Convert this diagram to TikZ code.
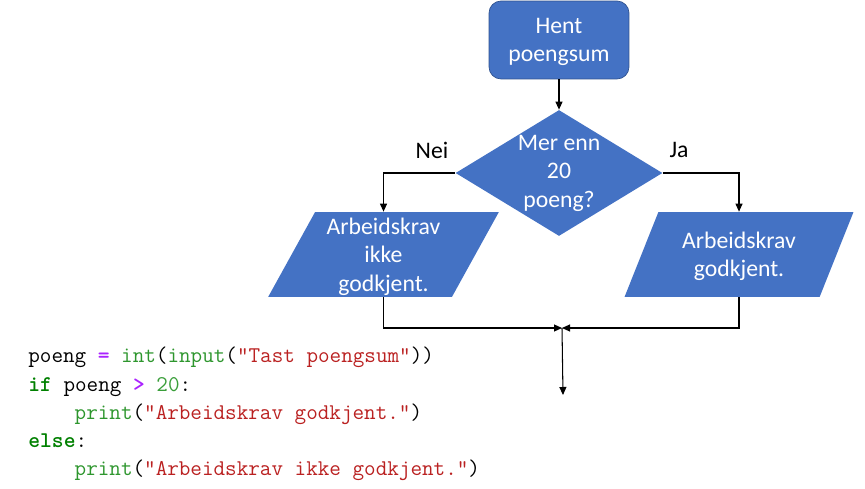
\documentclass[tikz,border=0pt]{standalone}
\usepackage{fontspec}
\setmainfont{Carlito}
\usetikzlibrary{arrows.meta, positioning, shapes.geometric}

\definecolor{boxblue}{HTML}{4472C4}
\definecolor{boxedge}{HTML}{2F528F}
\definecolor{kwgreen}{HTML}{008000}
\definecolor{fngreen}{HTML}{2E962E}
\definecolor{numgreen}{HTML}{3A9E3A}
\definecolor{strred}{HTML}{BA2121}
\definecolor{oppurple}{HTML}{AA22FF}

\newcommand\kw[1]{\textcolor{kwgreen}{\textbf{#1}}}
\newcommand\fn[1]{\textcolor{fngreen}{#1}}
\newcommand\str[1]{\textcolor{strred}{#1}}
\newcommand\op[1]{\textcolor{oppurple}{\textbf{#1}}}
\newcommand\num[1]{\textcolor{numgreen}{#1}}
\newcommand\tab{\hphantom{xxxx}}

\begin{document}
\begin{tikzpicture}[x=0.02cm, y=-0.02cm,
        flowtext/.style={font=\fontsize{13.5}{16.2}\selectfont, align=center},
        startbox/.style={flowtext, rectangle, rounded corners=0.24cm, draw=boxedge, fill=boxblue,
            text=white, text depth=0pt, minimum width=2.8cm, minimum height=1.56cm, inner sep=0pt},
        decision/.style={diamond, fill=boxblue, minimum width=4.14cm, minimum height=2.52cm, inner sep=0pt},
        iobox/.style={flowtext, trapezium, trapezium left angle=62, trapezium right angle=118,
            trapezium stretches=true, fill=boxblue, text=white, text depth=0pt,
            minimum width=4.62cm, minimum height=1.7cm, inner sep=0pt},
        flowarrow/.style={-{Triangle[length=1.6mm, width=1.4mm]}, line width=0.6pt},
        codeblock/.style={font=\ttfamily\fontsize{12.8}{16}\selectfont, align=left, inner sep=0pt}
    ]
        \useasboundingbox (0,0) rectangle (865,489);

        % Flytskjema
        \node [startbox] (start) at (559,40) {Hent\\poengsum};
        \node [decision, label={[flowtext, text=white]center:Mer enn\\20\\poeng?}] (dec) at (559,173) {};
        \node [iobox] (no) at (383.5,254.5) {Arbeidskrav\\ikke\\godkjent.};
        \node [iobox] (yes) at (739,254.5) {Arbeidskrav\\godkjent.};

        \node [flowtext] (neilabel) at (432,150) {Nei};
        \node [flowtext] (jalabel) at (679,150) {Ja};

        \coordinate (merge) at (562,328);
        \coordinate (endpt) at (563,395);

        % Piler
        \draw[flowarrow] (start) -- (dec);
        \draw[flowarrow] (dec.west) -| (no);
        \draw[flowarrow] (dec.east) -| (yes);
        \draw[flowarrow] (no) |- (merge);
        \draw[flowarrow] (yes) |- (merge);
        \draw[flowarrow] (merge) -- (endpt);

        % Python-kode
        \node [codeblock, anchor=north west] (code) at (28,347) {%
            poeng \op{=} \fn{int}(\fn{input}(\str{"Tast poengsum"}))\\
            \kw{if} poeng \op{>} \num{20}:\\
            \tab\fn{print}(\str{"Arbeidskrav godkjent."})\\
            \kw{else}:\\
            \tab\fn{print}(\str{"Arbeidskrav ikke godkjent."})};
    \end{tikzpicture}
\end{document}
